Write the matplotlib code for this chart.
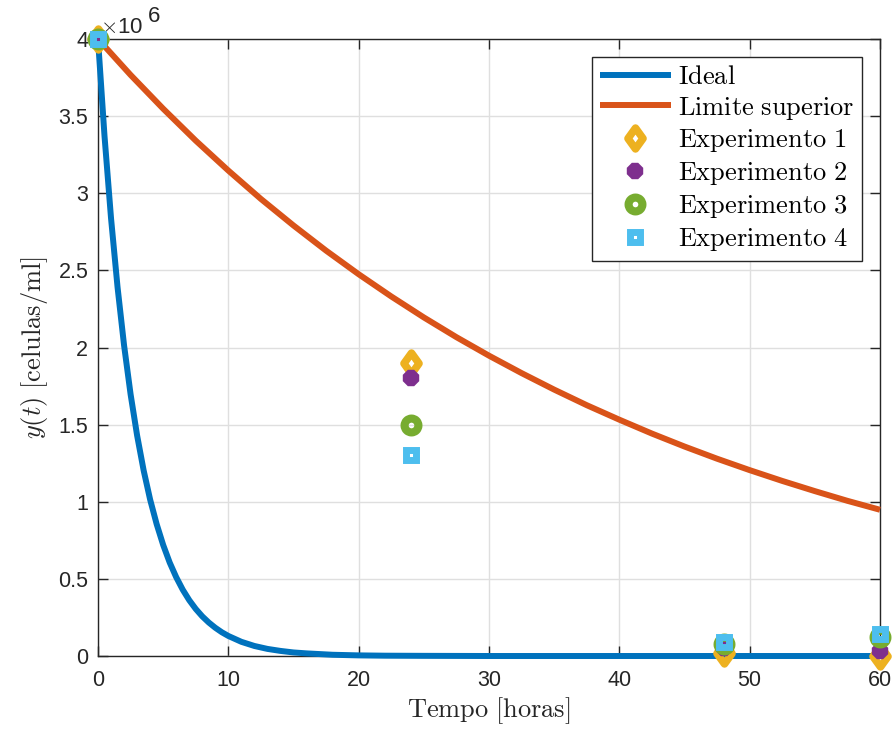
import matplotlib
matplotlib.use("Agg")
import matplotlib.pyplot as plt
from matplotlib.path import Path

plt.rcParams['mathtext.fontset'] = 'cm'
plt.rcParams['font.family'] = ['Liberation Sans', 'DejaVu Sans']

# ---- data ----
t_ideal = [0, 0.5, 1, 1.5, 2, 2.5, 3, 3.5, 4, 4.5, 5, 5.5, 6, 6.5, 7, 7.5, 8, 8.5, 9, 9.5, 10,
           11, 12, 13, 14, 15, 16, 18, 20, 22, 25, 30, 40, 50, 60]
y_ideal = [4.000, 3.370, 2.838, 2.391, 2.014, 1.697, 1.430, 1.204, 1.014, 0.855, 0.720, 0.606, 0.511,
           0.430, 0.362, 0.305, 0.257, 0.217, 0.183, 0.154, 0.130,
           0.092, 0.065, 0.046, 0.033, 0.023, 0.017, 0.008, 0.004, 0.002, 0.001, 0.0, 0.0, 0.0, 0.0]
t_lim = [0, 2.5, 5, 7.5, 10, 12.5, 15, 17.5, 20, 22.5, 25, 27.5, 30, 32.5, 35, 37.5, 40,
         42.5, 45, 47.5, 50, 52.5, 55, 57.5, 60]
y_lim = [4.000, 3.767, 3.548, 3.341, 3.147, 2.963, 2.791, 2.628, 2.475, 2.331, 2.195, 2.067, 1.947,
         1.834, 1.727, 1.626, 1.532, 1.442, 1.358, 1.279, 1.205, 1.135, 1.069, 1.006, 0.948]
t_exp = [0, 24, 48, 60]
exp1 = [4.0, 1.90, 0.02, 0.00]
exp2 = [4.0, 1.80, 0.05, 0.03]
exp3 = [4.0, 1.50, 0.08, 0.12]
exp4 = [4.0, 1.30, 0.09, 0.14]
labels = ['Ideal', 'Limite superior', 'Experimento 1', 'Experimento 2', 'Experimento 3', 'Experimento 4']
xticks = [0, 10, 20, 30, 40, 50, 60]
yticks = [0, 0.5, 1, 1.5, 2, 2.5, 3, 3.5, 4]
ytick_labels = ['0', '0.5', '1', '1.5', '2', '2.5', '3', '3.5', '4']
scale = 1e6

blue = '#0072BD'; orange = '#D95319'; yellow = '#EDB120'
purple = '#7E2F8E'; green = '#77AC30'; cyan = '#4DBEEE'
axc = '#262626'

diamond = Path([(0, 1), (0.72, 0), (0, -1), (-0.72, 0), (0, 1)],
               [Path.MOVETO, Path.LINETO, Path.LINETO, Path.LINETO, Path.CLOSEPOLY])

fig = plt.figure(figsize=(8.93, 7.31), dpi=100)
ax = fig.add_axes([98/893, 75/731, 782/893, 617/731])

ax.plot(t_ideal, [v*scale for v in y_ideal], color=blue, lw=4.3, label=labels[0], clip_on=False, zorder=3,
        solid_capstyle='butt', solid_joinstyle='round')
ax.plot(t_lim, [v*scale for v in y_lim], color=orange, lw=4.3, label=labels[1], clip_on=False, zorder=3,
        solid_capstyle='butt', solid_joinstyle='round')
ax.plot(t_exp, [v*scale for v in exp1], ls='none', marker=diamond, ms=15, mfc='none', mec=yellow, mew=5.5,
        label=labels[2], clip_on=False, zorder=4)
ax.plot(t_exp, [v*scale for v in exp2], ls='none', marker='8', ms=5, mfc=purple, mec=purple, mew=7.5,
        label=labels[3], clip_on=False, zorder=4)
ax.plot(t_exp, [v*scale for v in exp3], ls='none', marker='o', ms=10, mfc='none', mec=green, mew=5.8,
        label=labels[4], clip_on=False, zorder=4)
ax.plot(t_exp, [v*scale for v in exp4], ls='none', marker='s', ms=7.3, mfc='none', mec=cyan, mew=5,
        label=labels[5], clip_on=False, zorder=4)

ax.set_xlim(0, 60)
ax.set_ylim(0, 4*scale)
ax.set_xticks(xticks)
ax.set_yticks([v*scale for v in yticks])
ax.set_yticklabels(ytick_labels)
ax.tick_params(direction='in', length=7, width=1, colors=axc, labelsize=15.5, top=True, right=True)
ax.tick_params(axis='x', pad=10)
ax.tick_params(axis='y', pad=7)
ax.grid(True, color='#dfdfdf', lw=1)
ax.set_axisbelow(True)
for s in ax.spines.values():
    s.set_color(axc)
    s.set_linewidth(1)

ax.text(0.003, 1.002, r'$\times$10', transform=ax.transAxes, fontsize=16, color=axc, va='bottom', ha='left')
ax.text(0.064, 1.020, '6', transform=ax.transAxes, fontsize=16, color=axc, va='bottom', ha='left')

ax.set_xlabel(r'$\mathrm{Tempo\ [horas]}$', fontsize=19, color=axc, labelpad=3)
ax.set_ylabel(r'$y(t)\ \mathrm{[celulas/ml]}$', fontsize=19, color=axc, labelpad=6)

leg = ax.legend(loc='upper right', frameon=True, fancybox=False, framealpha=1,
                edgecolor=axc, borderpad=0.3, labelspacing=0.22, handlelength=2.7, handletextpad=0.25,
                borderaxespad=0.68, prop={'size': 19})
leg.get_frame().set_linewidth(1)
for txt in leg.get_texts():
    txt.set_text(r'$\mathrm{' + txt.get_text().replace(' ', r'\ ') + '}$')

fig.savefig('out.png', dpi=100)
